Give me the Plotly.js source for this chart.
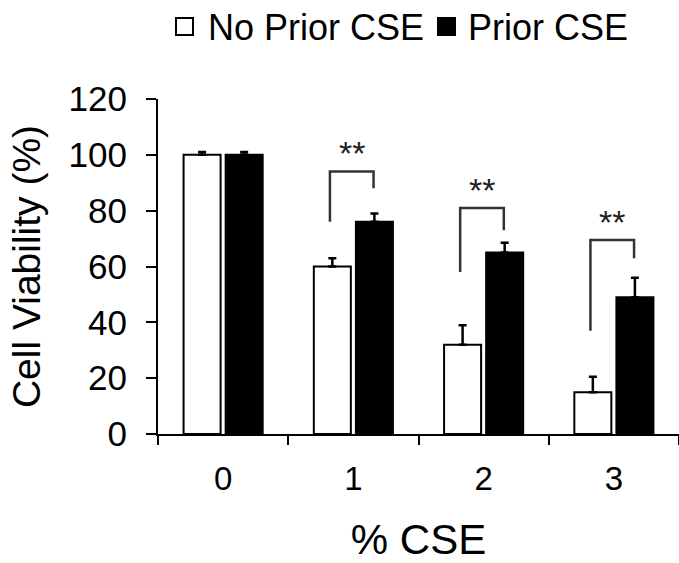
<!DOCTYPE html>
<html>
<head>
<meta charset="utf-8">
<script src="https://cdn.plot.ly/plotly-3.0.1.min.js"></script>
<style>html,body{margin:0;padding:0;background:#fff;}#chart{width:679px;height:563px;}</style>
</head>
<body>
<div id="chart"></div>
<script>
// Data
const categories = ["0", "1", "2", "3"];
const noPriorValues = [100, 60, 32, 15];
const noPriorErrors = [1, 3, 7, 5.5];
const priorValues = [100, 76, 65, 49];
const priorErrors = [1, 3, 3.5, 7];
const seriesNames = ["No Prior CSE", "Prior CSE"];
const seriesColors = ["#ffffff", "#000000"];
const yTicks = [0, 20, 40, 60, 80, 100, 120];
// Significance brackets (category index, left foot, top, right foot) and label
const sigCategories = [1, 2, 3];
const sigLeftFoot = [76, 58, 37];
const sigTop = [94, 81, 69.5];
const sigRightFoot = [88, 73, 63];
const sigLabel = "**";

const FONT = "Arial, 'Liberation Sans', sans-serif";
const zeros = categories.map(() => 0);

const traces = [
  {
    type: "bar", name: seriesNames[0], x: categories, y: noPriorValues,
    marker: {color: seriesColors[0], line: {color: "#000000", width: 2}},
    error_y: {type: "data", symmetric: false, array: noPriorErrors, arrayminus: zeros,
              color: "#000000", thickness: 2.5, width: 4}
  },
  {
    type: "bar", name: seriesNames[1], x: categories, y: priorValues,
    marker: {color: seriesColors[1], line: {color: "#000000", width: 2}},
    error_y: {type: "data", symmetric: false, array: priorErrors, arrayminus: zeros,
              color: "#000000", thickness: 2.5, width: 4}
  }
];

const shapes = [];
const annotations = [];
sigCategories.forEach((c, i) => {
  const xl = c - 0.18, xr = c + 0.155;
  shapes.push({
    type: "path", xref: "x", yref: "y",
    path: `M ${xl},${sigLeftFoot[i]} L ${xl},${sigTop[i]} L ${xr},${sigTop[i]} L ${xr},${sigRightFoot[i]}`,
    line: {color: "#333333", width: 2.5}
  });
  annotations.push({
    xref: "x", yref: "y", x: (xl + xr) / 2, y: sigTop[i] - 1, yanchor: "bottom",
    text: sigLabel, showarrow: false, font: {family: FONT, size: 34, color: "#222222"}
  });
});

// Manual legend (paper coords relative to plot area: 158..679 px wide, 99..434 px tall)
const PX = px => (px - 158) / 521;
const PY = py => (434 - py) / 335;
const legendBoxX = [176, 438];
const legendTextX = [206, 466];
seriesNames.forEach((name, i) => {
  shapes.push({
    type: "rect", xref: "paper", yref: "paper",
    x0: PX(legendBoxX[i]), x1: PX(legendBoxX[i] + 17), y0: PY(35), y1: PY(18),
    fillcolor: seriesColors[i], line: {color: "#000000", width: 2}
  });
  annotations.push({
    xref: "paper", yref: "paper", x: PX(legendTextX[i]), y: PY(27),
    xanchor: "left", yanchor: "middle", text: name, showarrow: false,
    font: {family: FONT, size: 36, color: "#000000"}
  });
});

const layout = {
  width: 679, height: 563,
  margin: {l: 158, r: 0, t: 99, b: 129},
  paper_bgcolor: "#ffffff", plot_bgcolor: "#ffffff",
  font: {family: FONT, color: "#000000"},
  barmode: "group", bargap: 0.354, bargroupgap: 0.12,
  showlegend: false,
  xaxis: {
    type: "category", tickson: "boundaries", ticks: "outside", ticklen: 9, tickwidth: 2,
    tickcolor: "#000000", showline: true, linecolor: "#000000", linewidth: 2,
    showgrid: false, zeroline: false, tickfont: {family: FONT, size: 33, color: "#000000"},
    ticklabelstandoff: 14,
    title: {text: "% CSE", font: {family: FONT, size: 42, color: "#000000"}, standoff: 40},
    automargin: false
  },
  yaxis: {
    range: [0, 120], tickvals: yTicks, ticktext: yTicks.map(String),
    ticks: "outside", ticklen: 10, tickwidth: 2, tickcolor: "#000000",
    showline: true, linecolor: "#000000", linewidth: 2, showgrid: false, zeroline: false,
    tickfont: {family: FONT, size: 35, color: "#000000"}, ticklabelstandoff: 12,
    title: {text: "Cell Viability (%)", font: {family: FONT, size: 39, color: "#000000"}, standoff: 16},
    automargin: false
  },
  shapes: shapes,
  annotations: annotations
};

Plotly.newPlot("chart", traces, layout, {displayModeBar: false, staticPlot: true});
</script>
</body>
</html>
